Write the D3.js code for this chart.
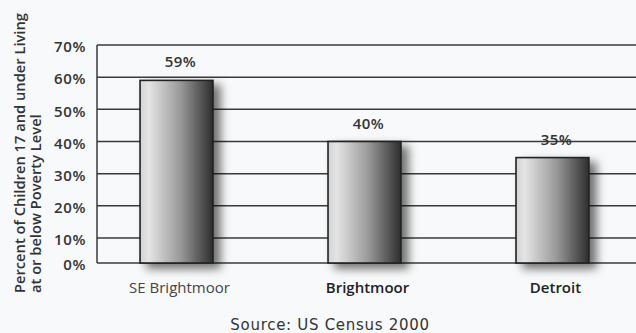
<!DOCTYPE html>
<html>
<head>
<meta charset="utf-8">
<script src="https://cdn.jsdelivr.net/npm/d3@7"></script>
<style>
  html, body { margin: 0; padding: 0; background: #f8f9fa; }
  svg { display: block; }
</style>
</head>
<body>
<svg id="chart" width="636" height="333"></svg>
<script>
// Children 17 and under at or below poverty level (US Census 2000)
const categories = ["SE Brightmoor", "Brightmoor", "Detroit"];
const values = [59, 40, 35];
const valueLabels = ["59%", "40%", "35%"];
const tickValues = [0, 10, 20, 30, 40, 50, 60, 70];
const tickLabels = ["0%", "10%", "20%", "30%", "40%", "50%", "60%", "70%"];
const yTitleLines = ["Percent of Children 17 and under Living", "at or below Poverty Level"];
const sourceText = "Source: US Census 2000";

const W = 636, H = 333;
const plot = { left: 97, right: 632, top: 45, bottom: 263 };
const ink = "#333";
const font = "'Open Sans', 'Noto Sans', sans-serif";

const svg = d3.select("#chart");

// gradient + soft drop shadow for the bars
const defs = svg.append("defs");
const grad = defs.append("linearGradient").attr("id", "barGrad")
  .attr("x1", "0%").attr("x2", "100%").attr("y1", "0%").attr("y2", "0%");
[["0%", "#d4d4d4"], ["12%", "#e4e4e4"], ["55%", "#9a9a9a"], ["100%", "#2e2e2e"]]
  .forEach(([o, c]) => grad.append("stop").attr("offset", o).attr("stop-color", c));

const shadow = defs.append("filter").attr("id", "shadow")
  .attr("x", "-20%").attr("y", "-10%").attr("width", "160%").attr("height", "130%");
shadow.append("feDropShadow")
  .attr("dx", 7).attr("dy", 5).attr("stdDeviation", 5)
  .attr("flood-color", "#000").attr("flood-opacity", 0.55);

// the first 10% step is drawn shorter than the rest, as on the printed chart
const y = d3.scaleLinear()
  .domain([0, 10, 70])
  .range([plot.bottom, 238, plot.top]);

const x = d3.scaleBand()
  .domain(categories)
  .range([plot.left, plot.right])
  .paddingInner(0.612)
  .paddingOuter(0.229);

// gridlines
svg.append("g")
  .selectAll("line")
  .data(tickValues)
  .join("line")
  .attr("x1", plot.left).attr("x2", W)
  .attr("y1", d => y(d)).attr("y2", d => y(d))
  .attr("stroke", "#3a3a3a").attr("stroke-width", 1.5);

// y axis line + tick labels
const yAxis = d3.axisLeft(y)
  .tickValues(tickValues)
  .tickSize(0)
  .tickPadding(11)
  .tickFormat((d, i) => tickLabels[i]);

const gy = svg.append("g")
  .attr("transform", `translate(${plot.left},0)`)
  .call(yAxis);
gy.select(".domain").attr("stroke", "#3a3a3a").attr("stroke-width", 1.5)
  .attr("d", `M0,${plot.top}V${plot.bottom}`);
gy.selectAll("text")
  .attr("fill", ink)
  .attr("dy", "0.45em")
  .style("font-family", font)
  .style("font-size", "15px")
  .style("letter-spacing", "0.6px")
  .style("font-weight", 600);

// bars
svg.append("g")
  .selectAll("rect")
  .data(values)
  .join("rect")
  .attr("x", (d, i) => x(categories[i]))
  .attr("y", d => y(d))
  .attr("width", x.bandwidth())
  .attr("height", d => y(0) - y(d))
  .attr("fill", "url(#barGrad)")
  .attr("stroke", "#222")
  .attr("stroke-width", 1.6)
  .attr("filter", "url(#shadow)");

// value labels
svg.append("g")
  .selectAll("text")
  .data(values)
  .join("text")
  .attr("x", (d, i) => x(categories[i]) + x.bandwidth() / 2 + 4)
  .attr("y", d => y(d) - 13)
  .attr("text-anchor", "middle")
  .attr("fill", ink)
  .style("font-family", font)
  .style("font-size", "15px")
  .style("letter-spacing", "0.4px")
  .style("font-weight", 600)
  .text((d, i) => valueLabels[i]);

// category labels
svg.append("g")
  .selectAll("text")
  .data(categories)
  .join("text")
  .attr("x", d => x(d) + x.bandwidth() / 2 + 3)
  .attr("y", 293)
  .attr("text-anchor", "middle")
  .attr("fill", (d, i) => i === 0 ? "#444" : "#222")
  .style("font-family", font)
  .style("font-size", "15px")
  .style("font-weight", (d, i) => i === 0 ? 400 : 600)
  .text(d => d);

// rotated y title, two lines, anchored at the bottom
const yTitle = svg.append("text")
  .attr("transform", "translate(0,293) rotate(-90)")
  .attr("fill", ink)
  .style("font-family", font)
  .style("font-size", "14.7px")
  .style("font-weight", 600);
yTitle.selectAll("tspan")
  .data(yTitleLines)
  .join("tspan")
  .attr("x", 0)
  .attr("y", (d, i) => 25 + i * 15.5)
  .text(d => d);

// source note
svg.append("text")
  .attr("x", 330)
  .attr("y", 330)
  .attr("text-anchor", "middle")
  .attr("fill", ink)
  .style("font-family", "'DejaVu Sans', Verdana, sans-serif")
  .style("font-size", "15px")
  .style("letter-spacing", "0.7px")
  .text(sourceText);
</script>
</body>
</html>
